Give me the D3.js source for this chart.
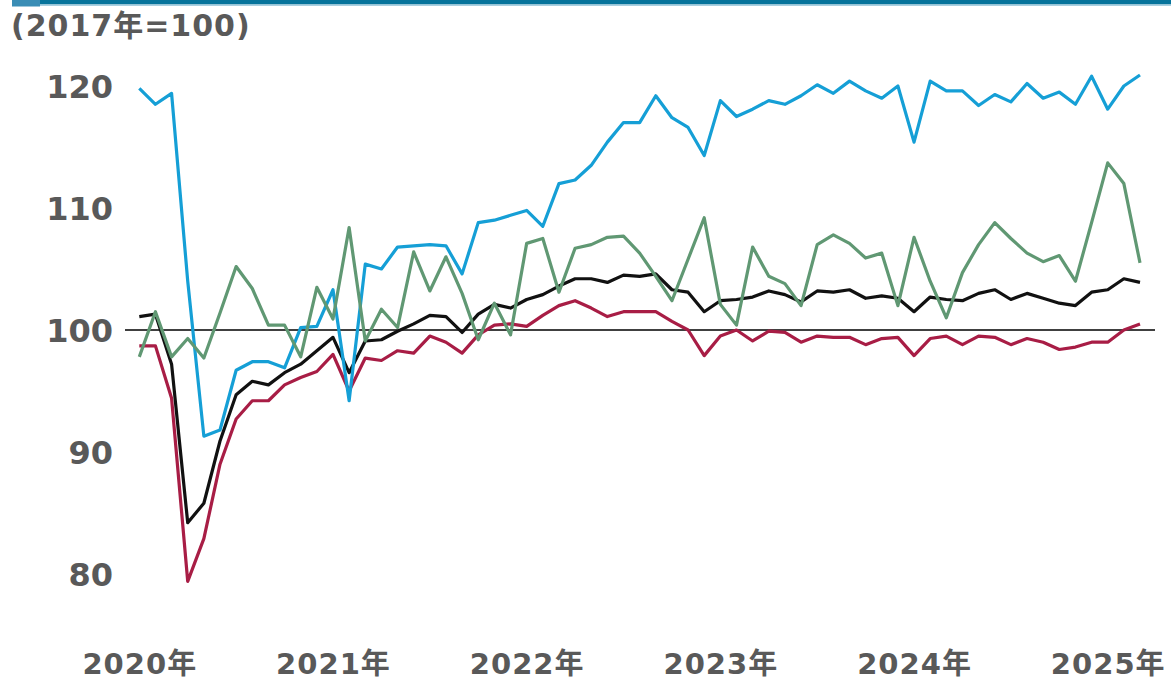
<!DOCTYPE html>
<html>
<head>
<meta charset="utf-8">
<script src="https://cdn.jsdelivr.net/npm/d3@7"></script>
<style>
  body { margin: 0; background: #fff; }
  svg text { font-family: "DejaVu Sans", "Noto Sans CJK JP", sans-serif; font-weight: bold; fill: #595959; }
</style>
</head>
<body>
<svg class="chart"></svg>
<script>
// Données mensuelles, janvier 2020 - mars 2025 (2017 = 100)
let months = d3.range(63).map(i => new Date(2020, i, 1));
let yearTicks = [0, 12, 24, 36, 48, 60];
let yearLabels = ["2020年", "2021年", "2022年", "2023年", "2024年", "2025年"];
let yTicks = [80, 90, 100, 110, 120];

let blue = [119.8, 118.5, 119.4, 104.0, 91.3, 91.8, 96.7, 97.4, 97.4, 96.9, 100.2, 100.3,
  103.3, 94.2, 105.4, 105.0, 106.8, 106.9, 107.0, 106.9, 104.6, 108.8, 109.0, 109.4,
  109.8, 108.5, 112.0, 112.3, 113.5, 115.4, 117.0, 117.0, 119.2, 117.4, 116.6, 114.3,
  118.8, 117.5, 118.1, 118.8, 118.5, 119.2, 120.1, 119.4, 120.4, 119.6, 119.0, 120.0,
  115.4, 120.4, 119.6, 119.6, 118.4, 119.3, 118.7, 120.2, 119.0, 119.5, 118.5, 120.8,
  118.1, 120.0, 120.9];
let green = [97.8, 101.5, 97.8, 99.3, 97.7, 101.4, 105.2, 103.4, 100.4, 100.4, 97.8, 103.5,
  100.9, 108.4, 99.1, 101.7, 100.2, 106.4, 103.2, 106.0, 103.0, 99.2, 102.2, 99.6,
  107.1, 107.5, 103.1, 106.7, 107.0, 107.6, 107.7, 106.3, 104.4, 102.4, 105.8, 109.2,
  102.1, 100.4, 106.8, 104.4, 103.8, 102.0, 107.0, 107.8, 107.1, 105.9, 106.3, 102.0,
  107.6, 104.0, 101.0, 104.7, 107.0, 108.8, 107.5, 106.3, 105.6, 106.1, 104.0, 108.8,
  113.7, 112.0, 105.5];
let black = [101.1, 101.3, 97.2, 84.2, 85.8, 90.9, 94.7, 95.8, 95.5, 96.5, 97.2, 98.3,
  99.4, 96.5, 99.1, 99.2, 99.9, 100.5, 101.2, 101.1, 99.8, 101.3, 102.1, 101.8,
  102.5, 102.9, 103.6, 104.2, 104.2, 103.9, 104.5, 104.4, 104.6, 103.3, 103.1, 101.5,
  102.4, 102.5, 102.7, 103.2, 102.9, 102.3, 103.2, 103.1, 103.3, 102.6, 102.8, 102.6,
  101.5, 102.7, 102.5, 102.4, 103.0, 103.3, 102.5, 103.0, 102.6, 102.2, 102.0, 103.1,
  103.3, 104.2, 103.9];
let red = [98.7, 98.7, 94.4, 79.4, 82.9, 89.0, 92.7, 94.2, 94.2, 95.5, 96.1, 96.6,
  98.0, 95.0, 97.7, 97.5, 98.3, 98.1, 99.5, 99.0, 98.1, 99.6, 100.4, 100.5,
  100.3, 101.2, 102.0, 102.4, 101.8, 101.1, 101.5, 101.5, 101.5, 100.7, 100.0, 97.9,
  99.5, 100.0, 99.1, 99.9, 99.8, 99.0, 99.5, 99.4, 99.4, 98.8, 99.3, 99.4,
  97.9, 99.3, 99.5, 98.8, 99.5, 99.4, 98.8, 99.3, 99.0, 98.4, 98.6, 99.0,
  99.0, 100.0, 100.5];

let seriesList = [
  {values: red, color: "#a81d45"},
  {values: black, color: "#111111"},
  {values: blue, color: "#159fd6"},
  {values: green, color: "#609873"}
];

let svg = d3.select(".chart")
    .attr("width", 1171)
    .attr("height", 680);

// Bandeau du haut
svg.append("rect").attr("x", 12).attr("y", 0).attr("width", 1159).attr("height", 4.5).attr("fill", "#06739b");
svg.append("rect").attr("x", 12).attr("y", 4.5).attr("width", 1159).attr("height", 1.5).attr("fill", "#a9cfe0");
svg.append("rect").attr("x", 12).attr("y", 0).attr("width", 28).attr("height", 6.5).attr("fill", "#3a8db5");

// Échelles
let x = d3.scaleLinear().domain([0, months.length - 1]).range([139.3, 1140]);
let y = d3.scaleLinear().domain([80, 120]).range([574, 86]);

// Unité
svg.append("text")
    .attr("x", 11)
    .attr("y", 36)
    .style("font-size", "30px")
    .style("letter-spacing", "1px")
    .text("(2017年=100)");

// Axe y
let yAxis = svg.append("g")
    .attr("transform", "translate(113,0)")
    .call(d3.axisLeft(y).tickValues(yTicks).tickSize(0).tickPadding(0));
yAxis.select(".domain").remove();
yAxis.selectAll("text").style("font-size", "32px").attr("dy", "0.36em");

// Axe x
let xAxis = svg.append("g")
    .attr("transform", "translate(0,653)")
    .call(d3.axisBottom(x).tickValues(yearTicks).tickSize(0).tickPadding(0)
      .tickFormat((d, i) => yearLabels[i]));
xAxis.select(".domain").remove();
xAxis.selectAll("text").style("font-size", "29px").style("letter-spacing", "1px").attr("dy", "0.72em");

// Ligne des 100
svg.append("line")
    .attr("x1", 125).attr("x2", 1155)
    .attr("y1", y(100)).attr("y2", y(100))
    .attr("stroke", "#404040")
    .attr("stroke-width", 2);

// Courbes
let line = d3.line()
    .x((d, i) => x(i))
    .y(d => y(d));

svg.selectAll(".serie")
  .data(seriesList)
  .enter().append("path")
    .attr("class", "serie")
    .attr("d", d => line(d.values))
    .attr("fill", "none")
    .attr("stroke", d => d.color)
    .attr("stroke-width", 3.2)
    .attr("stroke-linejoin", "round");
</script>
</body>
</html>
